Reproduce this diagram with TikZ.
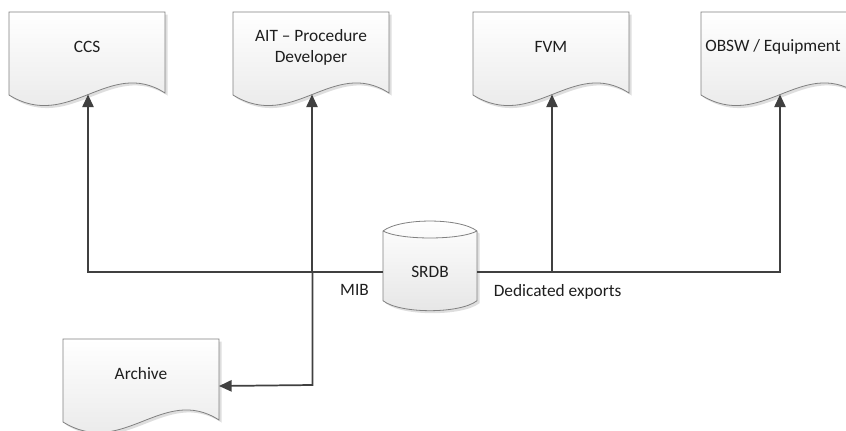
\documentclass[tikz,border=0pt]{standalone}
\usepackage{fontspec}
\setmainfont{Carlito}
\usetikzlibrary{arrows.meta,calc}
\definecolor{linec}{HTML}{404040}
\definecolor{borderc}{HTML}{808080}
\definecolor{txtc}{HTML}{1E1E1E}
\tikzset{
  conn/.style={draw=linec,line width=1.3pt,-{Triangle[length=9.5pt,width=8.5pt]}},
  plain/.style={draw=linec,line width=1.3pt},
  txt/.style={text=txtc,font=\fontsize{13}{16}\selectfont,align=center,inner sep=0pt},
  lbl/.style={text=txtc,font=\fontsize{13}{16}\selectfont,inner sep=0pt},
  docfill/.style={top color=white,bottom color=black!10,draw=borderc,line width=0.6pt},
  docshadow/.style={fill=black,opacity=0.13},
}
\newcommand\docshape[3]{%
  \begin{scope}[shift={(#2,#3)}]
    \fill[docshadow] (2.5,2.5) -- (158.5,2.5) -- (158.5,83.5) .. controls (102.5,47.5) and (62.5,122.5) .. (2.5,85.5) -- cycle;
    \shade[docfill] (0,0) -- (156,0) -- (156,81) .. controls (100,45) and (60,120) .. (0,83) -- cycle;
    \coordinate (#1-in) at (79,82.5);
    \coordinate (#1-side) at (156,47);
  \end{scope}%
}
\begin{document}
\begin{tikzpicture}[x=0.75pt,y=-0.75pt]
\useasboundingbox (0,0) rectangle (846,430);
% documents
\docshape{ccs}{9}{12}
\node[txt] (ccs) at (87,47) {CCS};
\docshape{ait}{233}{12}
\node[txt] (ait) at (311,47.5) {AIT -- Procedure\\Developer};
\docshape{fvm}{473}{12}
\node[txt] (fvm) at (551,47) {FVM};
\docshape{obsw}{701}{12}
\node[txt] (obsw) at (773,47) {OBSW / Equipment};
\docshape{arch}{63}{339}
\node[txt] (arch) at (141,374) {Archive};
% cylinder
\fill[docshadow] (385.5,233.5) .. controls (402.5,220.2) and (462.5,220.2) .. (479.5,233.5) -- (479.5,303.2) .. controls (462.5,316.5) and (402.5,316.5) .. (385.5,303.2) -- cycle;
\shade[docfill] (383,231) .. controls (400,217.7) and (460,217.7) .. (477,231) -- (477,300.7) .. controls (460,314) and (400,314) .. (383,300.7) -- cycle;
\draw[draw=borderc,line width=0.6pt] (383,231) .. controls (400,240.3) and (460,240.3) .. (477,231);
\node[txt,minimum width=70.5pt,minimum height=10pt] (srdb) at (430,272) {SRDB};
% connectors
\coordinate (turn) at (312.5,385);
\draw[conn] (srdb.west) -| (ccs-in);
\draw[conn] (srdb.west) -| (ait-in);
\draw[conn] (srdb.west) -| (turn) -- (arch-side);
\draw[conn] (srdb.east) -| (fvm-in);
\draw[conn] (srdb.east) -| (obsw-in);
% labels
\node[lbl] (mib) at (354.5,289.5) {MIB};
\node[lbl,anchor=west] (dexp) at (493.5,292) {Dedicated exports};
\end{tikzpicture}
\end{document}
